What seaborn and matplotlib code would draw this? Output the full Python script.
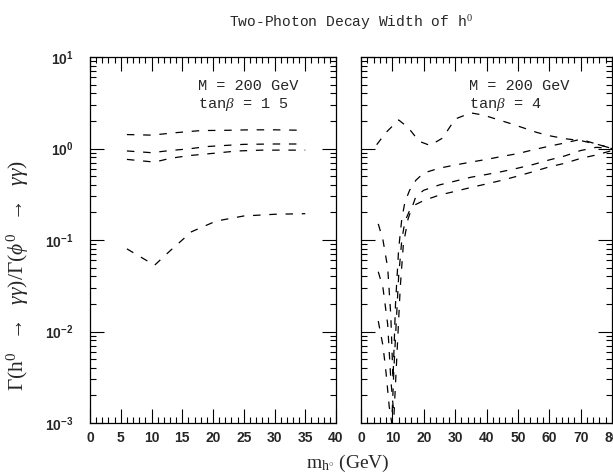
import matplotlib
matplotlib.use("Agg")
import matplotlib.pyplot as plt
from matplotlib.ticker import MultipleLocator, LogLocator, NullFormatter, FixedLocator, FixedFormatter
import seaborn as sns
import pandas as pd

# ---- data: left panel (tan beta = 1.5), x in GeV ----
left_a_x = [6, 10, 14, 18, 22, 26, 30, 35]
left_a_y = [1.42, 1.40, 1.49, 1.57, 1.58, 1.60, 1.60, 1.58]
left_b_x = [6, 10, 13, 16, 19, 22, 25, 30, 35]
left_b_y = [0.94, 0.90, 0.95, 0.99, 1.05, 1.08, 1.11, 1.12, 1.12]
left_c_x = [6, 10.5, 13, 16, 20, 24, 28, 35]
left_c_y = [0.76, 0.71, 0.78, 0.835, 0.885, 0.94, 0.96, 0.96]
left_d_x = [6, 10.5, 13, 16.5, 20.5, 25, 30, 35]
left_d_y = [0.080, 0.053, 0.076, 0.123, 0.161, 0.183, 0.191, 0.194]

# ---- data: right panel (tan beta = 4) ----
right_1_x = [5, 8, 12, 15, 18.5, 22, 26, 30, 35, 39, 43, 47.5, 52, 56, 60, 65, 70, 75, 80]
right_1_y = [1.1, 1.5, 2.05, 1.7, 1.2, 1.08, 1.3, 2.1, 2.45, 2.32, 2.1, 1.88, 1.67, 1.5, 1.38, 1.28, 1.22, 1.12, 1.0]
right_2_x = [5.5, 7, 8.5, 9.5, 10.2, 11, 12, 13, 14, 15.5, 17.5, 20, 25, 30, 35, 40, 45, 50, 55, 60, 65, 70, 75, 80]
right_2_y = [0.15, 0.10, 0.05, 0.015, 0.003, 0.02, 0.08, 0.17, 0.26, 0.35, 0.45, 0.54, 0.61, 0.66, 0.71, 0.76, 0.82, 0.88, 0.97, 1.06, 1.15, 1.26, 1.12, 1.0]
right_3_x = [5.5, 7, 8.5, 9.5, 10.5, 11.5, 12.5, 13.5, 15, 17.5, 20, 25, 30, 35, 40, 45, 50, 55, 60, 65, 70, 75, 80]
right_3_y = [0.045, 0.03, 0.012, 0.003, 0.0012, 0.006, 0.03, 0.09, 0.17, 0.30, 0.35, 0.40, 0.44, 0.485, 0.52, 0.56, 0.61, 0.67, 0.75, 0.83, 0.95, 1.03, 1.0]
right_4_x = [5.5, 7, 8, 9, 9.8, 10.5, 11.2, 12, 13, 14, 15.5, 17.5, 20, 25, 30, 35, 40, 45, 50, 55, 60, 65, 70, 75, 80]
right_4_y = [0.013, 0.007, 0.0035, 0.0015, 0.001, 0.004, 0.012, 0.04, 0.1, 0.16, 0.21, 0.245, 0.27, 0.31, 0.34, 0.375, 0.41, 0.45, 0.5, 0.56, 0.63, 0.69, 0.78, 0.85, 0.95]

left_xticks = [0, 5, 10, 15, 20, 25, 30, 35, 40]
right_xticks = [0, 10, 20, 30, 40, 50, 60, 70, 80]
y_ticks = [1e-3, 1e-2, 1e-1, 1e0, 1e1]
y_ticklabels = [r"$\mathsf{10^{-3}}$", r"$\mathsf{10^{-2}}$", r"$\mathsf{10^{-1}}$",
                r"$\mathsf{10^{0}}$", r"$\mathsf{10^{1}}$"]

title = r"Two-Photon Decay Width of h$^0$"
xlabel = r"m$_{\mathrm{h}^{\circ}}$ (GeV)"
ylabel = r"$\Gamma(\mathrm{h}^0\ \ \rightarrow\ \ \gamma\gamma)/\Gamma(\phi^0\ \ \rightarrow\ \ \gamma\gamma)$"
left_note = ["M = 200 GeV", r"tan$\beta$ = 1 5"]
right_note = ["M = 200 GeV", r"tan$\beta$ = 4"]

sns.set_style("ticks")
plt.rcParams["mathtext.fontset"] = "custom"
plt.rcParams["mathtext.rm"] = "Liberation Serif"
plt.rcParams["mathtext.it"] = "Liberation Serif:italic"
plt.rcParams["mathtext.bf"] = "Liberation Sans:bold"
plt.rcParams["mathtext.sf"] = "Liberation Sans:bold"
plt.rcParams["font.family"] = ["Liberation Serif", "DejaVu Serif"]

fig = plt.figure(figsize=(6.13, 4.74), dpi=100)
W, H = 613.0, 474.0
axL = fig.add_axes([90 / W, 1 - 423 / H, 246 / W, 366 / H])
axR = fig.add_axes([361 / W, 1 - 423 / H, 251 / W, 366 / H])

dash = (0, (6, 7))

def draw(ax, xs, ys):
    df = pd.DataFrame({"x": xs, "y": ys})
    sns.lineplot(data=df, x="x", y="y", ax=ax, color="black", linewidth=0.9,
                 linestyle=dash, estimator=None, sort=False)

for xs, ys in [(left_a_x, left_a_y), (left_b_x, left_b_y), (left_c_x, left_c_y), (left_d_x, left_d_y)]:
    draw(axL, xs, ys)
for xs, ys in [(right_1_x, right_1_y), (right_2_x, right_2_y), (right_3_x, right_3_y), (right_4_x, right_4_y)]:
    draw(axR, xs, ys)

for ax, xt, xmax, minor in [(axL, left_xticks, 40, 1), (axR, right_xticks, 80, 2)]:
    ax.set_yscale("log")
    ax.set_ylim(1e-3, 1e1)
    ax.set_xlim(0, xmax)
    ax.set_xticks(xt)
    ax.set_xticklabels([str(v) for v in xt], fontfamily="Liberation Sans", fontweight="bold", fontsize=10)
    ax.xaxis.set_minor_locator(MultipleLocator(minor))
    ax.yaxis.set_major_locator(FixedLocator(y_ticks))
    ax.yaxis.set_minor_locator(LogLocator(base=10, subs=range(2, 10), numticks=20))
    ax.yaxis.set_minor_formatter(NullFormatter())
    ax.tick_params(which="both", direction="in", top=True, right=True, width=0.8, color="black")
    ax.tick_params(which="major", length=10)
    ax.tick_params(which="minor", length=4.5)
    ax.tick_params(axis="x", which="major", pad=6)
    ax.set_xlabel("")
    ax.set_ylabel("")
    for s in ax.spines.values():
        s.set_linewidth(0.9)
        s.set_color("black")

axL.yaxis.set_major_formatter(FixedFormatter(y_ticklabels))
axL.tick_params(axis="y", which="major", pad=12, labelsize=10)
axR.yaxis.set_major_formatter(NullFormatter())

mono = ["Liberation Mono", "DejaVu Sans Mono"]
axL.text(17.6, 4.8, left_note[0], fontfamily=mono, fontsize=11, va="center", ha="left")
axL.text(17.6, 3.0, left_note[1], fontfamily=mono, fontsize=11, va="center", ha="left")
axR.text(34.5, 4.8, right_note[0], fontfamily=mono, fontsize=11, va="center", ha="left")
axR.text(34.5, 3.0, right_note[1], fontfamily=mono, fontsize=11, va="center", ha="left")

fig.text(351 / W, 1 - 23 / H, title, fontfamily=mono, fontsize=10.5, ha="center", va="center")
fig.text(348 / W, 1 - 463 / H, xlabel, fontsize=14, ha="center", va="center")
fig.text(18 / W, 1 - 276 / H, ylabel, fontsize=15.5, ha="center", va="center", rotation=90)

fig.savefig("out.png", dpi=100)
